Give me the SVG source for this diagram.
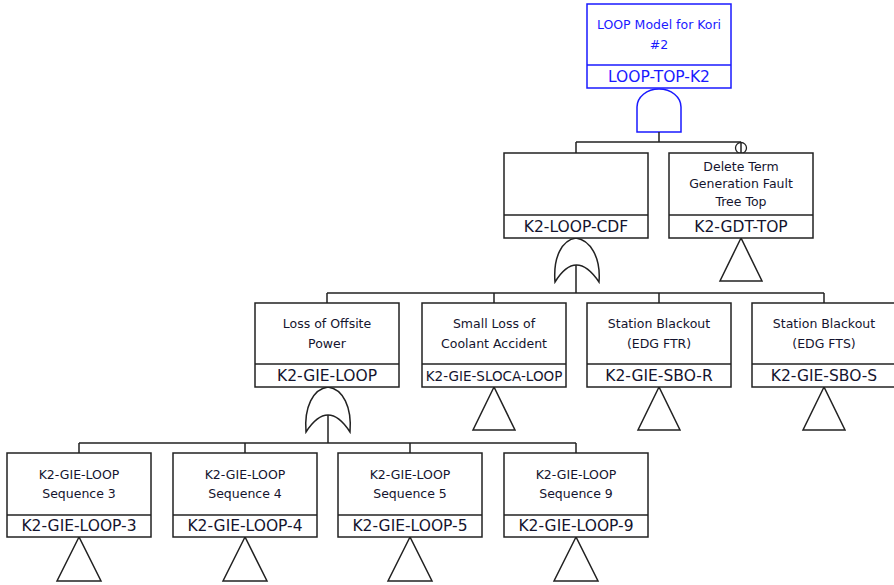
<svg xmlns="http://www.w3.org/2000/svg" width="894" height="585" viewBox="0 0 894 585">
  <style>
    .box { fill: #ffffff; stroke: #222222; stroke-width: 1.5; }
    .div { stroke: #222222; stroke-width: 1.5; }
    .top .box, .top .div { stroke: #1a1aff; }
    .desc { font-family: "DejaVu Sans", Verdana, sans-serif; font-size: 12.5px; fill: #14142e; text-anchor: middle; }
    .lbl { font-family: "DejaVu Sans", Verdana, sans-serif; font-size: 15.5px; fill: #14142e; text-anchor: middle; }
    .top .desc, .top .lbl { fill: #1a1aff; }
    .wire { fill: none; stroke: #222222; stroke-width: 1.5; }
    .gate { fill: #ffffff; stroke: #222222; stroke-width: 1.5; }
    .and { fill: #ffffff; stroke: #1a1aff; stroke-width: 1.5; }
    .xfer { fill: #ffffff; stroke: #222222; stroke-width: 1.3; }
  </style>

  <!-- connectors: buses, stems and gate bodies -->
  <g id="connectors">
    <!-- top AND gate -->
    <path class="and" d="M637,132 L637,107 A22,18 0 0 1 681,107 L681,132 Z"/>
    <path class="wire" d="M659,132 V142 M576,142 H741 M576,142 V153 M741,142 V153"/>
    <circle class="xfer" cx="741" cy="148" r="5.5"/>
    <line class="wire" x1="741" y1="142.5" x2="741" y2="153"/>

    <!-- OR gate under K2-LOOP-CDF -->
    <path class="gate" d="M555,282 C553,257 562,240 576,238 C590,240 601,257 599,282 Q576,248 555,282 Z"/>
    <path class="wire" d="M576,265 V293 M327,293 H824 M327,293 V303 M494,293 V303 M659,293 V303 M824,293 V303"/>

    <!-- OR gate under K2-GIE-LOOP -->
    <path class="gate" d="M306,432 C304,407 313,389 328,387 C343,389 352,407 350,432 Q328,398 306,432 Z"/>
    <path class="wire" d="M328,415 V443 M79,443 H576 M79,443 V453 M245,443 V453 M410,443 V453 M576,443 V453"/>

    <!-- transfer triangles -->
    <path class="gate" d="M741,238 L720,281 H762 Z"/>
    <path class="gate" d="M494,387 L473,430 H515 Z"/>
    <path class="gate" d="M659,387 L638,430 H680 Z"/>
    <path class="gate" d="M824,387 L803,430 H845 Z"/>
    <path class="gate" d="M79,537 L57,581 H101 Z"/>
    <path class="gate" d="M245,537 L223,581 H267 Z"/>
    <path class="gate" d="M410,537 L388,581 H432 Z"/>
    <path class="gate" d="M576,537 L554,581 H598 Z"/>
  </g>

  <!-- top event -->
  <g id="LOOP-TOP-K2" class="top">
    <rect class="box" x="587" y="4" width="144" height="84"/>
    <line class="div" x1="587" y1="65" x2="731" y2="65"/>
    <text class="desc" x="659" y="28.5">LOOP Model for Kori</text>
    <text class="desc" x="659" y="48.5">#2</text>
    <text class="lbl" x="659" y="82">LOOP-TOP-K2</text>
  </g>

  <g id="K2-LOOP-CDF">
    <rect class="box" x="504" y="153" width="144" height="85"/>
    <line class="div" x1="504" y1="215" x2="648" y2="215"/>
    <text class="lbl" x="576" y="232">K2-LOOP-CDF</text>
  </g>

  <g id="K2-GDT-TOP">
    <rect class="box" x="669" y="153" width="144" height="85"/>
    <line class="div" x1="669" y1="215" x2="813" y2="215"/>
    <text class="desc" x="741" y="170.5">Delete Term</text>
    <text class="desc" x="741" y="188">Generation Fault</text>
    <text class="desc" x="741" y="206">Tree Top</text>
    <text class="lbl" x="741" y="232">K2-GDT-TOP</text>
  </g>

  <g id="K2-GIE-LOOP">
    <rect class="box" x="255" y="303" width="144" height="84"/>
    <line class="div" x1="255" y1="364" x2="399" y2="364"/>
    <text class="desc" x="327" y="327.5">Loss of Offsite</text>
    <text class="desc" x="327" y="347.5">Power</text>
    <text class="lbl" x="327" y="381">K2-GIE-LOOP</text>
  </g>

  <g id="K2-GIE-SLOCA-LOOP">
    <rect class="box" x="422" y="303" width="144" height="84"/>
    <line class="div" x1="422" y1="364" x2="566" y2="364"/>
    <text class="desc" x="494" y="327.5">Small Loss of</text>
    <text class="desc" x="494" y="347.5">Coolant Accident</text>
    <text class="lbl" x="494" y="380.5" style="font-size:13.5px">K2-GIE-SLOCA-LOOP</text>
  </g>

  <g id="K2-GIE-SBO-R">
    <rect class="box" x="587" y="303" width="144" height="84"/>
    <line class="div" x1="587" y1="364" x2="731" y2="364"/>
    <text class="desc" x="659" y="327.5">Station Blackout</text>
    <text class="desc" x="659" y="347.5">(EDG FTR)</text>
    <text class="lbl" x="659" y="381">K2-GIE-SBO-R</text>
  </g>

  <g id="K2-GIE-SBO-S">
    <rect class="box" x="752" y="303" width="144" height="84"/>
    <line class="div" x1="752" y1="364" x2="896" y2="364"/>
    <text class="desc" x="824" y="327.5">Station Blackout</text>
    <text class="desc" x="824" y="347.5">(EDG FTS)</text>
    <text class="lbl" x="824" y="381">K2-GIE-SBO-S</text>
  </g>

  <g id="K2-GIE-LOOP-3">
    <rect class="box" x="7" y="453" width="144" height="84"/>
    <line class="div" x1="7" y1="515" x2="151" y2="515"/>
    <text class="desc" x="79" y="478.5">K2-GIE-LOOP</text>
    <text class="desc" x="79" y="497.5">Sequence 3</text>
    <text class="lbl" x="79" y="531">K2-GIE-LOOP-3</text>
  </g>

  <g id="K2-GIE-LOOP-4">
    <rect class="box" x="173" y="453" width="144" height="84"/>
    <line class="div" x1="173" y1="515" x2="317" y2="515"/>
    <text class="desc" x="245" y="478.5">K2-GIE-LOOP</text>
    <text class="desc" x="245" y="497.5">Sequence 4</text>
    <text class="lbl" x="245" y="531">K2-GIE-LOOP-4</text>
  </g>

  <g id="K2-GIE-LOOP-5">
    <rect class="box" x="338" y="453" width="144" height="84"/>
    <line class="div" x1="338" y1="515" x2="482" y2="515"/>
    <text class="desc" x="410" y="478.5">K2-GIE-LOOP</text>
    <text class="desc" x="410" y="497.5">Sequence 5</text>
    <text class="lbl" x="410" y="531">K2-GIE-LOOP-5</text>
  </g>

  <g id="K2-GIE-LOOP-9">
    <rect class="box" x="504" y="453" width="144" height="84"/>
    <line class="div" x1="504" y1="515" x2="648" y2="515"/>
    <text class="desc" x="576" y="478.5">K2-GIE-LOOP</text>
    <text class="desc" x="576" y="497.5">Sequence 9</text>
    <text class="lbl" x="576" y="531">K2-GIE-LOOP-9</text>
  </g>
</svg>
